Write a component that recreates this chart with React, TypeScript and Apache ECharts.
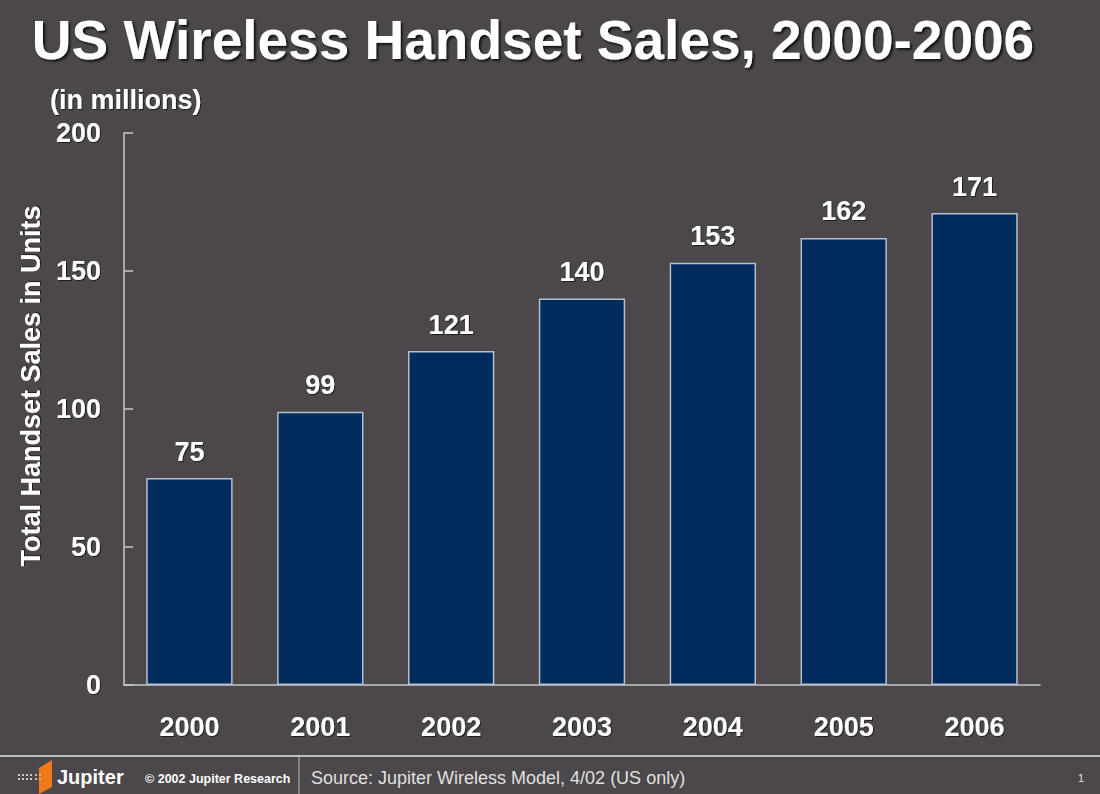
import React, { useEffect, useRef } from "react";
import * as echarts from "echarts";

const categories = ["2000", "2001", "2002", "2003", "2004", "2005", "2006"];
const sales = [75, 99, 121, 140, 153, 162, 171];
const yTicks = [0, 50, 100, 150, 200];

const BG = "#4b474a";
const FONT = "'Liberation Sans', Arial, sans-serif";

export default function App() {
  const ref = useRef<HTMLDivElement>(null);
  useEffect(() => {
    const chart = echarts.init(ref.current!, null, { renderer: "svg" });
    const shadow = {
      textShadowColor: "rgba(0,0,0,0.6)",
      textShadowOffsetX: 1,
      textShadowOffsetY: 1,
      textShadowBlur: 1,
    };
    chart.setOption({
      animation: false,
      backgroundColor: BG,
      textStyle: { fontFamily: FONT },
      grid: { left: 124, right: 60, top: 133, bottom: 109 },
      xAxis: {
        type: "category",
        data: categories,
        axisLine: { lineStyle: { color: "#c9c9c9", width: 1.5 } },
        axisTick: { show: false },
        axisLabel: {
          color: "#ffffff",
          fontWeight: "bold",
          fontSize: 27,
          margin: 28,
          ...shadow,
        },
      },
      yAxis: {
        type: "value",
        min: yTicks[0],
        max: yTicks[yTicks.length - 1],
        interval: 50,
        splitLine: { show: false },
        axisLine: { show: true, lineStyle: { color: "#c9c9c9", width: 1.5 } },
        axisTick: { show: true, inside: true, length: 9, lineStyle: { color: "#c9c9c9", width: 1.5 } },
        axisLabel: {
          color: "#ffffff",
          fontWeight: "bold",
          fontSize: 27,
          margin: 23,
          ...shadow,
        },
      },
      series: [
        {
          type: "bar",
          data: sales,
          barCategoryGap: "34%",
          itemStyle: { color: "#022b5e", borderColor: "#b4c0cc", borderWidth: 1.5 },
          label: {
            show: true,
            position: "top",
            distance: 13,
            color: "#ffffff",
            fontWeight: "bold",
            fontSize: 27,
            ...shadow,
          },
        },
      ],
      graphic: [
        {
          type: "text",
          x: 533,
          y: 40,
          style: {
            text: "US Wireless Handset Sales, 2000-2006",
            fill: "#ffffff",
            font: `bold 55px ${FONT}`,
            align: "center",
            verticalAlign: "middle",
            textShadowColor: "rgba(0,0,0,0.75)",
            textShadowOffsetX: 2,
            textShadowOffsetY: 2,
            textShadowBlur: 2,
          },
        },
        {
          type: "text",
          x: 50,
          y: 100,
          style: {
            text: "(in millions)",
            fill: "#ffffff",
            font: `bold 27px ${FONT}`,
            align: "left",
            verticalAlign: "middle",
            ...shadow,
          },
        },
        {
          type: "text",
          x: 31,
          y: 386,
          rotation: Math.PI / 2,
          style: {
            text: "Total Handset Sales in Units",
            fill: "#ffffff",
            font: `bold 27px ${FONT}`,
            align: "center",
            verticalAlign: "middle",
            ...shadow,
          },
        },
        // footer line
        { type: "line", shape: { x1: 0, y1: 756, x2: 1100, y2: 756 }, style: { stroke: "#e6e6e6", lineWidth: 1.5 } },
        { type: "line", shape: { x1: 299, y1: 756, x2: 299, y2: 794 }, style: { stroke: "#bdbdbd", lineWidth: 1 } },
        // logo
        {
          type: "polygon",
          shape: { points: [[39, 768], [52, 760], [52, 787], [39, 794]] },
          style: { fill: "#f07a1a" },
        },
        ...[0, 1, 2, 3].flatMap((i) =>
          [0, 1].map((j) => ({
            type: "rect",
            shape: { x: 18 + i * 4, y: 774 + j * 4, width: 2, height: 2 },
            style: { fill: "#c8c8c8" },
          }))
        ),
        ...[0, 1].flatMap((i) =>
          [0, 1].map((j) => ({
            type: "rect",
            shape: { x: 35 + i * 4, y: 774 + j * 4, width: 2, height: 2 },
            style: { fill: "#f5b070" },
          }))
        ),
        {
          type: "text",
          x: 57,
          y: 777,
          style: { text: "Jupiter", fill: "#ffffff", font: `bold 20px ${FONT}`, align: "left", verticalAlign: "middle" },
        },
        {
          type: "text",
          x: 145,
          y: 779,
          style: { text: "© 2002 Jupiter Research", fill: "#ffffff", font: `bold 12.5px ${FONT}`, align: "left", verticalAlign: "middle" },
        },
        {
          type: "text",
          x: 311,
          y: 778,
          style: { text: "Source: Jupiter Wireless Model, 4/02 (US only)", fill: "#e0e0e0", font: `18px ${FONT}`, align: "left", verticalAlign: "middle" },
        },
        {
          type: "text",
          x: 1081,
          y: 778,
          style: { text: "1", fill: "#e0e0e0", font: `11px ${FONT}`, align: "center", verticalAlign: "middle" },
        },
      ],
    });
    return () => chart.dispose();
  }, []);
  return <div ref={ref} style={{ width: 1100, height: 794, position: "absolute", left: 0, top: 0 }} />;
}
